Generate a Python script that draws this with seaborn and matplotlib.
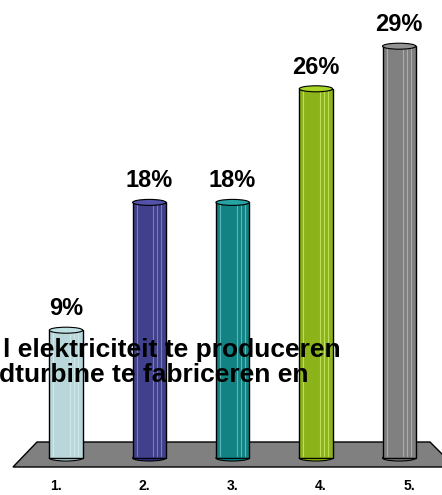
import matplotlib
matplotlib.use("Agg")
import matplotlib.pyplot as plt
from matplotlib.patches import Polygon, Ellipse, Rectangle
from matplotlib.colors import to_rgb
import seaborn as sns
import pandas as pd

# Answer options and share of responses (%)
categories = ["1.", "2.", "3.", "4.", "5."]
shares = [9, 18, 18, 26, 29]
bar_colors = ["#B4DCDF", "#333399", "#009494", "#99CC00", "#808080"]
overlay_lines = ["l elektriciteit te produceren", "dturbine te fabriceren en"]

sns.set_theme(style="white")
plt.rcParams["font.family"] = ["Liberation Sans", "DejaVu Sans"]

W, H = 442, 495
fig = plt.figure(figsize=(W / 100, H / 100), dpi=100)
ax = fig.add_axes([0, 0, 1, 1])

df = pd.DataFrame({"option": categories, "share": shares})

sns.barplot(data=df, x="option", y="share", hue="option", palette=bar_colors,
            order=categories, width=0.4, edgecolor="black", linewidth=1.0,
            legend=False, ax=ax, zorder=3)
bars = [p for p in ax.patches if isinstance(p, Rectangle)]

# axis extents: category spacing ~83 px, first column centred at 66 px;
# zero at 37 px above the bottom, ~14.2 px per percent
px_per_cat = 83.3
ax.set_xlim(-66 / px_per_cat, (W - 66) / px_per_cat)
px_per_pct = 14.2
ax.set_ylim(-37 / px_per_pct, (H - 37) / px_per_pct)

# grey floor the columns stand on
floor = Polygon([(13 / W, 28 / H), (37 / W, 53 / H), (430 / W, 53 / H), (455 / W, 28 / H)],
                closed=True, transform=ax.transAxes, facecolor="#808080",
                edgecolor="black", linewidth=1.0, zorder=1, clip_on=False)
ax.add_patch(floor)


def lighten(c, f):
    r, g, b = to_rgb(c)
    return (r + (1 - r) * f, g + (1 - g) * f, b + (1 - b) * f)


cap_h = 6 / px_per_pct  # height of the elliptical caps in data units
for patch, col, val in zip(bars, bar_colors, shares):
    x0 = patch.get_x()
    w = patch.get_width()
    top = patch.get_height()
    # vertical highlight stripes giving the column a fluted cylinder look
    for frac in (0.12, 0.62, 0.74, 0.86):
        ax.plot([x0 + w * frac] * 2, [cap_h * 0.3, top - cap_h * 0.3],
                color=lighten(col, 0.35), linewidth=0.8, zorder=4)
    # rounded top cap
    ax.add_patch(Ellipse((x0 + w / 2, top), w, cap_h, facecolor=lighten(col, 0.15),
                         edgecolor="black", linewidth=0.8, zorder=5))
    # rounded bottom
    ax.add_patch(Ellipse((x0 + w / 2, 0), w, cap_h, facecolor=col,
                         edgecolor="black", linewidth=0.8, zorder=2))
    # value label
    ax.text(x0 + w / 2, top + 15 / px_per_pct, f"{val}%", ha="center", va="baseline",
            fontsize=17, fontweight="bold", color="black", zorder=6)

# category labels, spread slightly wider than the columns
label_pos = [2 + (i - 2) * 1.06 for i in range(len(categories))]
for pos, lab in zip(label_pos, categories):
    ax.text(pos, -32 / px_per_pct, lab, ha="center", va="baseline",
            fontsize=10, fontweight="bold", color="black")

ax.set_axis_off()

# overlapping text block
fig.text(3 / W, 1 - 357 / H, overlay_lines[0], ha="left", va="baseline",
         fontsize=19, fontweight="bold", color="black", zorder=10)
fig.text(-1 / W, 1 - 382 / H, overlay_lines[1], ha="left", va="baseline",
         fontsize=19, fontweight="bold", color="black", zorder=10)

fig.savefig("out.png", dpi=100)
